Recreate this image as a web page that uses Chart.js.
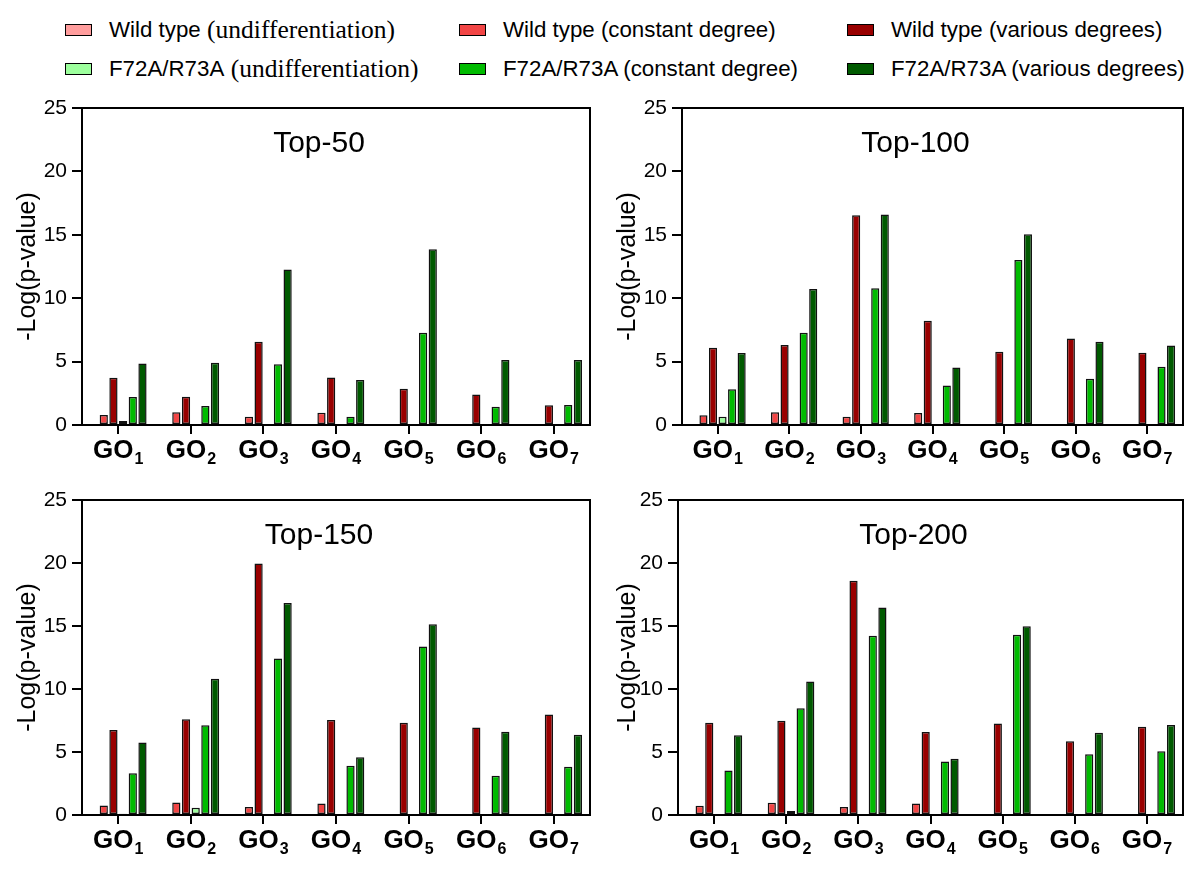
<!DOCTYPE html>
<html>
<head>
<meta charset="utf-8">
<script src="https://cdn.jsdelivr.net/npm/chart.js@4.4.1/dist/chart.umd.min.js"></script>
<style>
  body { margin: 0; background: #fff; width: 1200px; height: 869px; position: relative; overflow: hidden; }
  canvas { position: absolute; }
  .ley { position: absolute; display: flex; align-items: center; height: 20px; font: 22.3px "Liberation Sans", Arial, sans-serif; color: #000; white-space: nowrap; }
  .ley i { display: inline-block; width: 25px; height: 10px; border: 1.5px solid #000; margin-right: 17px; }
  .ley .serif { font: 25.5px "Liberation Serif", "Times New Roman", serif; }
</style>
</head>
<body>
<div id="leyenda"></div>
<canvas id="c50" width="600" height="380" style="left:0;top:90px"></canvas>
<canvas id="c100" width="600" height="380" style="left:600px;top:90px"></canvas>
<canvas id="c150" width="600" height="380" style="left:0;top:480px"></canvas>
<canvas id="c200" width="600" height="380" style="left:600px;top:480px"></canvas>
<script>
// --- DATOS ---
const categorias = ['GO1', 'GO2', 'GO3', 'GO4', 'GO5', 'GO6', 'GO7'];
const series = ['Wild type (undifferentiation)', 'Wild type (constant degree)', 'Wild type (various degrees)',
                'F72A/R73A (undifferentiation)', 'F72A/R73A (constant degree)', 'F72A/R73A (various degrees)'];
const colores = ['#ff9d9d', '#f24545', '#990000', '#9dff9d', '#00bb00', '#005a00'];
const ticksY = [0, 5, 10, 15, 20, 25];

// Top-50
const t50_wtUndif = [0, 0, 0, 0, 0, 0, 0];
const t50_wtConst = [0.79, 1.0, 0.66, 0.97, 0, 0, 0];
const t50_wtVar   = [3.73, 2.23, 6.56, 3.75, 2.86, 2.41, 1.55];
const t50_mtUndif = [0.31, 0, 0, 0, 0, 0, 0];
const t50_mtConst = [2.2, 1.5, 4.8, 0.66, 7.27, 1.44, 1.57];
const t50_mtVar   = [4.86, 4.9, 12.26, 3.54, 13.86, 5.12, 5.12];
// Top-100
const t100_wtUndif = [0, 0, 0, 0, 0, 0, 0];
const t100_wtConst = [0.76, 1.0, 0.66, 0.94, 0, 0, 0];
const t100_wtVar   = [6.09, 6.3, 16.54, 8.22, 5.77, 6.82, 5.7];
const t100_mtUndif = [0.66, 0.08, 0.05, 0, 0, 0, 0];
const t100_mtConst = [2.81, 7.27, 10.79, 3.12, 13.02, 3.65, 4.59];
const t100_mtVar   = [5.67, 10.73, 16.61, 4.54, 15.04, 6.56, 6.27];
// Top-150
const t150_wtUndif = [0, 0, 0, 0, 0, 0, 0];
const t150_wtConst = [0.76, 0.99, 0.63, 0.92, 0, 0, 0];
const t150_wtVar   = [6.75, 7.59, 19.97, 7.54, 7.33, 6.94, 7.98];
const t150_mtUndif = [0.1, 0.58, 0.05, 0, 0, 0, 0];
const t150_mtConst = [3.32, 7.12, 12.43, 3.9, 13.38, 3.12, 3.82];
const t150_mtVar   = [5.76, 10.81, 16.83, 4.58, 15.13, 6.6, 6.36];
// Top-200
const t200_wtUndif = [0, 0, 0, 0, 0, 0, 0];
const t200_wtConst = [0.73, 0.97, 0.63, 0.92, 0, 0, 0];
const t200_wtVar   = [7.32, 7.48, 18.6, 6.58, 7.27, 5.85, 7.0];
const t200_mtUndif = [0, 0.31, 0, 0, 0, 0, 0];
const t200_mtConst = [3.54, 8.47, 14.22, 4.25, 14.3, 4.83, 5.06];
const t200_mtVar   = [6.32, 10.6, 16.47, 4.46, 14.98, 6.53, 7.14];

const FUENTE = '"Liberation Sans", Arial, sans-serif';

// --- LEYENDA ---
const leyenda = document.getElementById('leyenda');
const colX = [65, 459, 847], filaY = [20, 59];
series.forEach((nom, i) => {
  const d = document.createElement('div');
  d.className = 'ley';
  d.style.left = colX[i % 3] + 'px';
  d.style.top = filaY[Math.floor(i / 3)] + 'px';
  const txt = nom.replace('(undifferentiation)', '<span class="serif">&nbsp;(undifferentiation)</span>');
  d.innerHTML = `<i style="background:${colores[i]}"></i>${txt}`;
  leyenda.appendChild(d);
});

// --- PLUGIN: marco, titulo y etiquetas GO con subindice ---
const marco = {
  id: 'marco',
  afterDraw(chart, args, opts) {
    const { ctx, chartArea: a } = chart;
    const x = chart.scales.x;
    ctx.save();
    ctx.strokeStyle = '#000'; ctx.lineWidth = 2;
    ctx.strokeRect(a.left, a.top, a.right - a.left, a.bottom - a.top);

    ctx.fillStyle = '#000';
    ctx.textAlign = 'center'; ctx.textBaseline = 'alphabetic';
    ctx.font = '30px ' + FUENTE;
    ctx.fillText(opts.titulo, (a.left + a.right) / 2 - 17, a.top + 44);

    ctx.textAlign = 'left';
    chart.data.labels.forEach((lbl, i) => {
      const base = lbl.slice(0, 2), sub = lbl.slice(2);
      ctx.font = 'bold 26px ' + FUENTE;
      const w1 = ctx.measureText(base).width;
      ctx.font = 'bold 16px ' + FUENTE;
      const w2 = ctx.measureText(sub).width;
      const sx = x.getPixelForTick(i) - (w1 + w2 + 1) / 2;
      ctx.font = 'bold 26px ' + FUENTE;
      ctx.fillText(base, sx, a.bottom + 33);
      ctx.font = 'bold 16px ' + FUENTE;
      ctx.fillText(sub, sx + w1 + 1, a.bottom + 39);
    });
    ctx.restore();
  }
};

function crearPanel(id, titulo, valores, anchoY, padTop, padRight) {
  return new Chart(document.getElementById(id), {
    type: 'bar',
    data: {
      labels: categorias,
      datasets: series.map((nom, i) => ({
        label: nom, data: valores[i], backgroundColor: colores[i],
        borderColor: '#111', borderWidth: 1.5, borderSkipped: false,
        categoryPercentage: 0.8, barPercentage: 0.85
      }))
    },
    options: {
      responsive: false, animation: false, devicePixelRatio: 1,
      layout: { padding: { top: padTop, right: padRight, left: 0, bottom: 0 } },
      plugins: { legend: { display: false }, tooltip: { enabled: false }, marco: { titulo } },
      scales: {
        x: {
          grid: { offset: false, drawOnChartArea: false, tickLength: 9, color: '#000', lineWidth: 2 },
          border: { color: '#000', width: 2 },
          ticks: { display: false },
          afterFit: s => { s.height = 45; }
        },
        y: {
          min: 0, max: 25,
          afterBuildTicks: s => { s.ticks = ticksY.map(v => ({ value: v })); },
          grid: { drawOnChartArea: false, tickLength: 10, color: '#000', lineWidth: 2 },
          border: { color: '#000', width: 2 },
          ticks: { color: '#000', padding: 5, font: { family: FUENTE, size: 21 } },
          title: { display: true, text: '-Log(p-value)', color: '#000', padding: { top: 13, bottom: 0 },
                   font: { family: FUENTE, size: 25 } },
          afterFit: s => { s.width = anchoY; }
        }
      }
    },
    plugins: [marco]
  });
}

crearPanel('c50', 'Top-50', [t50_wtUndif, t50_wtConst, t50_wtVar, t50_mtUndif, t50_mtConst, t50_mtVar], 82, 18, 10);
crearPanel('c100', 'Top-100', [t100_wtUndif, t100_wtConst, t100_wtVar, t100_mtUndif, t100_mtConst, t100_mtVar], 82, 18, 17);
crearPanel('c150', 'Top-150', [t150_wtUndif, t150_wtConst, t150_wtVar, t150_mtUndif, t150_mtConst, t150_mtVar], 82, 20, 10);
crearPanel('c200', 'Top-200', [t200_wtUndif, t200_wtConst, t200_wtVar, t200_mtUndif, t200_mtConst, t200_mtVar], 78, 20, 17);
</script>
</body>
</html>
